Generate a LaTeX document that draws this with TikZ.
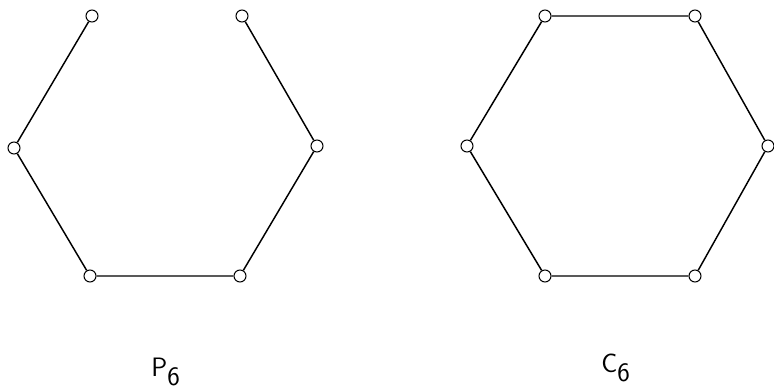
\documentclass[tikz,border=0pt]{standalone}
\usepackage{tikz}
\usetikzlibrary{positioning}

\begin{document}
\begin{tikzpicture}[x=0.0264cm, y=-0.0264cm,
  vertex/.style={draw, circle, fill=white, inner sep=0pt, minimum size=12*0.0264cm, line width=0.8pt},
  edge/.style={line width=1.1pt},
  glabel/.style={font=\sffamily\fontsize{20}{24}\selectfont, inner sep=0pt}]
  \useasboundingbox (0,0) rectangle (774,389);
  % path P6
  \node[vertex] (p1) at (92,16) {};
  \node[vertex] (p2) at (242,16) {};
  \node[vertex] (p3) at (317,146) {};
  \node[vertex] (p4) at (240,276) {};
  \node[vertex] (p5) at (90,276) {};
  \node[vertex] (p6) at (14,148) {};
  \draw[edge] (p1) -- (p6) -- (p5) -- (p4) -- (p3) -- (p2);
  % cycle C6
  \node[vertex] (c1) at (545,16) {};
  \node[vertex] (c2) at (695,16) {};
  \node[vertex] (c3) at (768,146) {};
  \node[vertex] (c4) at (695,276) {};
  \node[vertex] (c5) at (545,276) {};
  \node[vertex] (c6) at (467,146) {};
  \draw[edge] (c1) -- (c2) -- (c3) -- (c4) -- (c5) -- (c6) -- (c1);
  % labels
  \node[glabel] (lp) at (166,372) {P$_{\textsf{6}}$};
  \node[glabel] (lc) at (616,368) {C$_{\textsf{6}}$};
\end{tikzpicture}
\end{document}
